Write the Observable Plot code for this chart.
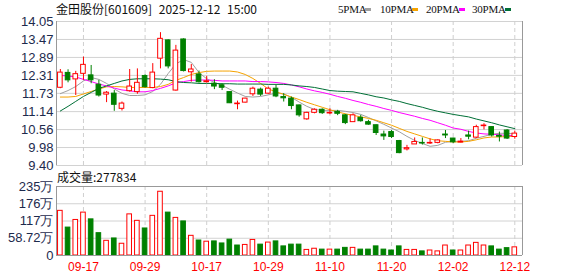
<!DOCTYPE html>
<html><head><meta charset="utf-8">
<script src="https://cdn.jsdelivr.net/npm/d3@7"></script>
<script src="https://cdn.jsdelivr.net/npm/@observablehq/plot@0.6"></script>
<style>
html,body{margin:0;padding:0;background:#fff;}
body{width:578px;height:276px;overflow:hidden;position:relative;font-family:"Liberation Sans",Arial,sans-serif;}
#title{position:absolute;left:56px;top:0px;font-family:"Noto Sans CJK SC","Liberation Sans",sans-serif;font-size:12px;line-height:17px;color:#111;white-space:pre;word-spacing:4px;}
.lg{position:absolute;top:1px;font-family:"Liberation Serif",serif;font-size:11px;line-height:16px;color:#111;white-space:pre;letter-spacing:-0.2px;}
.mk{position:absolute;top:8px;width:6px;height:3px;}
#vollabel{position:absolute;left:57px;top:169px;font-family:"Noto Sans CJK SC","Liberation Sans",sans-serif;font-size:12px;line-height:16px;color:#111;white-space:pre;}
#price{position:absolute;left:0;top:16px;}
#volume{position:absolute;left:0;top:180px;}
</style></head><body>
<div id="title"></div>
<div id="legend"></div>
<div id="price"></div>
<div id="vollabel"></div>
<div id="volume"></div>
<script>
const titleText = "金田股份[601609] 2025-12-12 15:00";
const volLabelText = "成交量:277834";

const dates = ["09-12","09-15","09-16","09-17","09-18","09-19","09-22","09-23","09-24","09-25","09-26","09-29","09-30",
"10-09","10-10","10-13","10-14","10-15","10-16","10-17","10-20","10-21","10-22","10-23","10-24","10-27","10-28","10-29","10-30","10-31",
"11-03","11-04","11-05","11-06","11-07","11-10","11-11","11-12","11-13","11-14","11-17","11-18","11-19","11-20","11-21","11-24","11-25","11-26","11-27","11-28",
"12-01","12-02","12-03","12-04","12-05","12-08","12-09","12-10","12-11","12-12"];

const open  = [11.91,12.39,12.18,12.36,12.31,12.01,11.69,11.72,11.23,11.80,11.77,12.29,11.90,12.85,13.44,11.82,13.47,12.41,12.34,12.09,
12.04,11.99,11.77,11.38,11.43,11.70,11.85,11.72,11.88,11.61,11.56,11.34,10.89,11.10,11.20,11.08,11.13,11.02,10.80,10.94,
10.80,10.70,10.40,10.48,10.19,9.92,10.08,10.13,10.11,10.13,10.40,10.27,10.14,10.37,10.30,10.67,10.64,10.36,10.53,10.32];
const high  = [12.50,12.49,12.44,12.90,12.63,12.15,11.79,11.82,11.45,12.50,12.52,12.33,12.69,13.69,13.46,13.28,13.49,12.66,12.45,12.28,
12.17,12.04,11.78,11.48,11.57,11.93,11.90,11.93,11.99,11.72,11.61,11.35,11.12,11.23,11.23,11.23,11.18,11.05,11.07,11.02,
10.86,10.71,10.51,10.53,10.21,10.05,10.29,10.29,10.26,10.23,10.53,10.28,10.27,10.51,10.70,10.75,10.65,10.48,10.56,10.51];
const low   = [11.88,12.07,11.66,12.15,12.04,11.61,11.43,11.15,11.16,11.77,11.70,11.90,11.88,12.52,12.52,11.80,12.42,12.09,12.06,12.06,
11.85,11.82,11.40,11.20,11.42,11.63,11.63,11.70,11.59,11.45,11.20,10.96,10.86,11.07,11.05,11.04,11.01,10.72,10.80,10.80,
10.70,10.37,10.21,10.27,9.78,9.87,10.08,10.06,10.08,10.10,10.27,10.11,10.13,10.23,10.27,10.55,10.32,10.16,10.24,10.25];
const close = [12.40,12.15,12.35,12.65,12.15,11.66,11.75,11.36,11.40,11.95,12.07,11.93,12.40,13.49,12.60,13.11,12.45,12.50,12.09,12.12,
11.95,11.91,11.41,11.40,11.56,11.88,11.69,11.88,11.63,11.57,11.32,11.02,11.10,11.20,11.09,11.10,11.07,10.77,11.02,10.83,
10.72,10.45,10.34,10.32,9.80,9.96,10.16,10.11,10.13,10.21,10.37,10.15,10.17,10.33,10.64,10.69,10.37,10.33,10.27,10.43];
// 成交量, 单位: 万
const volume = [152,95,121,146,123,76,50,58,40,140,118,92,135,217,146,128,116,67,51,47,
48,41,54,34,36,53,37,44,48,31,37,37,19,23,20,20,20,26,26,20,
20,31,20,17,31,19,19,14,17,14,34,17,17,34,43,34,31,20,25,27.78];

const ma5  = [11.72,11.82,11.95,12.13,12.24,12.18,12.05,11.87,11.73,11.66,11.66,11.68,11.79,12.02,12.37,12.68,12.82,12.73,12.40,12.20,
12.08,11.99,11.86,11.74,11.63,11.61,11.63,11.68,11.74,11.71,11.60,11.45,11.31,11.21,11.18,11.18,11.18,11.15,11.11,11.05,
10.95,10.84,10.73,10.61,10.49,10.34,10.21,10.11,10.02,10.05,10.15,10.18,10.18,10.20,10.28,10.34,10.41,10.44,10.44,10.42];
const ma10 = [11.61,11.61,11.63,11.71,11.79,11.87,11.94,11.95,11.94,11.92,11.92,11.92,11.92,11.95,12.02,12.15,12.24,12.34,12.40,12.44,
12.45,12.45,12.45,12.42,12.34,12.21,12.05,11.87,11.78,11.70,11.61,11.53,11.44,11.36,11.28,11.20,11.13,11.07,11.02,10.97,
10.92,10.86,10.78,10.70,10.60,10.50,10.42,10.34,10.26,10.20,10.18,10.16,10.16,10.18,10.23,10.29,10.32,10.32,10.34,10.34];
const ma20 = [12.31,12.29,12.26,12.18,12.11,12.03,11.97,11.90,11.84,11.81,11.78,11.78,11.82,11.89,11.97,12.07,12.11,12.15,12.16,12.16,
12.15,12.13,12.13,12.13,12.13,12.11,12.11,12.10,12.08,12.05,12.00,11.94,11.87,11.81,11.76,11.70,11.63,11.57,11.50,11.44,
11.37,11.31,11.24,11.18,11.11,11.05,10.99,10.92,10.86,10.78,10.70,10.61,10.57,10.50,10.45,10.42,10.41,10.39,10.37,10.37];
const ma30 = [11.16,11.31,11.47,11.63,11.76,11.89,11.97,12.05,12.13,12.18,12.20,12.20,12.20,12.19,12.17,12.11,12.08,12.07,12.05,12.05,
12.05,12.04,12.04,12.03,12.03,12.03,12.03,12.02,12.02,12.02,12.00,11.97,11.95,11.92,11.87,11.82,11.80,11.79,11.78,11.73,
11.68,11.62,11.58,11.52,11.47,11.40,11.34,11.28,11.21,11.15,11.10,11.05,11.01,10.97,10.90,10.84,10.78,10.71,10.65,10.59];

const maNames = ["5PMA","10PMA","20PMA","30PMA"];
const maColors = ["#a0a0a0","#f5a300","#ff00ff","#006f36"];

const priceTicks = [9.40,9.98,10.56,11.14,11.73,12.31,12.89,13.47,14.05];
const priceTickLabels = ["9.40","9.98","10.56","11.14","11.73","12.31","12.89","13.47","14.05"];
const volTicks = [0,58.72,117.44,176.16,234.88];
const volTickLabels = ["0","58.72万","117万","176万","235万"];
const dateTickLabels = ["09-17","09-29","10-17","10-29","11-10","11-20","12-02","12-12"];

// ---------- build ----------
document.getElementById("title").textContent = titleText;
document.getElementById("vollabel").textContent = volLabelText;

const legendPos = [338, 380, 426, 472];
const markerPos = [365, 412, 459, 505];
const lg = document.getElementById("legend");
maNames.forEach((n, k) => {
  const t = document.createElement("div"); t.className = "lg"; t.style.left = legendPos[k] + "px"; t.textContent = n; lg.appendChild(t);
  const m = document.createElement("div"); m.className = "mk"; m.style.left = markerPos[k] + "px"; m.style.background = maColors[k]; lg.appendChild(m);
});

const N = dates.length;
const RED = "#ff0000", GREEN = "#008000";
const rows = dates.map((d, i) => ({
  i, date: d, open: open[i], high: high[i], low: low[i], close: close[i], vol: volume[i],
  up: close[i] >= open[i],
  volUp: i === 0 ? close[i] >= open[i] : close[i] >= close[i - 1]
}));
const dateTickIdx = dateTickLabels.map(l => dates.indexOf(l));
const priceLabelMap = new Map(priceTicks.map((v, k) => [v, priceTickLabels[k]]));
const volLabelMap = new Map(volTicks.map((v, k) => [v, volTickLabels[k]]));
const maSeries = [ma5, ma10, ma20, ma30];

const W = 578, ML = 56, MR = 56;
const xDomain = [-0.5, N];
const halfW = 0.3;
const axisColor = "#1d2a4d";
const styleBase = {fontFamily: '"Liberation Sans", Arial, sans-serif', fontSize: "13px", background: "transparent", overflow: "visible"};

const pricePlot = Plot.plot({
  width: W, height: 155, marginLeft: ML, marginRight: MR, marginTop: 5, marginBottom: 6,
  x: {domain: xDomain, axis: null},
  y: {domain: [9.40, 14.05]},
  color: {type: "identity"},
  style: styleBase,
  marks: [
    Plot.ruleY(priceTicks, {stroke: "#d2d2d2"}),
    Plot.ruleX(dateTickIdx, {stroke: "#cfcfcf", strokeDasharray: "4,3"}),
    Plot.axisY(priceTicks, {tickSize: 0, tickPadding: 3, label: null, tickFormat: d => priceLabelMap.get(d), color: axisColor, fontSize: 13}),
    ...maSeries.map((s, k) => Plot.line(s, {x: (d, i) => i, y: d => d, stroke: maColors[k], strokeWidth: 1})),
    Plot.ruleX(rows, {x: "i", y1: "low", y2: "high", stroke: d => d.up ? RED : GREEN}),
    Plot.rect(rows, {x1: d => d.i - halfW, x2: d => d.i + halfW, y1: "open", y2: "close",
      fill: d => d.up ? "#ffffff" : GREEN, stroke: d => d.up ? RED : GREEN}),
    Plot.ruleX([xDomain[0], xDomain[1]], {stroke: "#999"})
  ]
});
document.getElementById("price").appendChild(pricePlot);

const volPlot = Plot.plot({
  width: W, height: 96, marginLeft: ML, marginRight: MR, marginTop: 6, marginBottom: 21,
  x: {domain: xDomain},
  y: {domain: [0, volTicks[volTicks.length - 1]]},
  color: {type: "identity"},
  style: styleBase,
  marks: [
    Plot.ruleY(volTicks.slice(1), {stroke: "#d2d2d2"}),
    Plot.ruleX(dateTickIdx, {stroke: "#cfcfcf", strokeDasharray: "4,3"}),
    Plot.axisY(volTicks, {tickSize: 0, tickPadding: 3, label: null, tickFormat: d => volLabelMap.get(d), color: axisColor, fontSize: 13}),
    Plot.axisX(dateTickIdx, {tickSize: 0, tickPadding: 7, label: null, tickFormat: i => dates[i], color: RED, fontSize: 12}),
    Plot.rect(rows, {x1: d => d.i - halfW, x2: d => d.i + halfW, y1: 0, y2: "vol",
      fill: d => d.volUp ? "#ffffff" : GREEN, stroke: d => d.volUp ? RED : GREEN}),
    Plot.ruleY([0], {stroke: "#999"}),
    Plot.ruleY([volTicks[volTicks.length - 1]], {stroke: "#999"}),
    Plot.ruleX([xDomain[0], xDomain[1]], {stroke: "#999"})
  ]
});
document.getElementById("volume").appendChild(volPlot);
</script>
</body></html>
